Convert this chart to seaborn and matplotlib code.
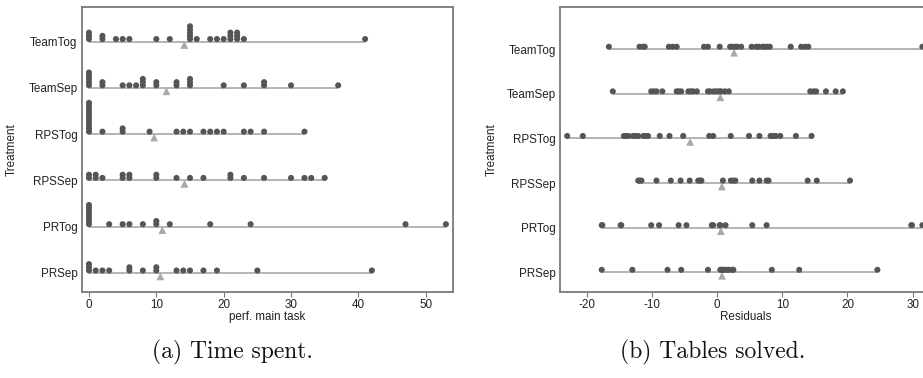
import numpy as np
import pandas as pd
import matplotlib
matplotlib.use("Agg")
import matplotlib.pyplot as plt
import seaborn as sns

# ---------------- data ----------------
treatments = ["TeamTog", "TeamSep", "RPSTog", "RPSSep", "PRTog", "PRSep"]

# (a) perf. main task (stacked dot plot)
time_teamtog = [0, 0, 0, 2, 2, 4, 5, 6, 10, 12, 15, 15, 15, 15, 15, 16, 18, 19, 20,
                21, 21, 21, 22, 22, 22, 23, 41]
time_teamsep = [0, 0, 0, 0, 0, 2, 2, 5, 6, 7, 8, 8, 8, 10, 10, 13, 13, 15, 15, 15,
                20, 23, 26, 26, 30, 37]
time_rpstog = [0, 0, 0, 0, 0, 0, 0, 0, 0, 0, 2, 5, 5, 9, 13, 14, 15, 17, 18, 19, 20,
               23, 24, 26, 32]
time_rpssep = [0, 0, 1, 1, 2, 5, 5, 6, 6, 10, 10, 13, 15, 17, 21, 21, 23, 26, 30, 32,
               33, 35]
time_prtog = [0, 0, 0, 0, 0, 0, 0, 3, 5, 6, 8, 10, 10, 12, 18, 24, 47, 53]
time_prsep = [0, 0, 0, 1, 2, 3, 6, 6, 8, 10, 10, 13, 14, 15, 17, 19, 25, 42]

# (b) Residuals
res_teamtog = [-16.6, -11.9, -11.4, -11.1, -7.4, -6.8, -6.2, -2.0, -1.4, 0.4, 2.0, 2.4,
               2.8, 3.1, 3.7, 5.3, 6.0, 6.4, 7.0, 7.3, 7.7, 8.1, 11.3, 12.9, 13.5, 14.0, 31.5]
res_teamsep = [-16.0, -10.1, -9.7, -9.3, -8.4, -6.2, -5.9, -5.5, -4.4, -4.0, -3.7, -3.1,
               -1.4, -1.1, -0.5, -0.1, 0.3, 0.6, 1.2, 1.8, 14.3, 14.8, 15.2, 16.7, 18.2, 19.3]
res_rpstog = [-23.0, -20.6, -14.3, -14.0, -13.6, -12.9, -12.5, -12.1, -11.3, -11.0, -10.6,
              -8.8, -7.3, -5.2, -1.2, -0.6, 2.1, 4.9, 6.5, 8.6, 8.2, 9.0, 9.7, 12.1, 14.5]
res_rpssep = [-12.1, -11.9, -11.6, -9.3, -7.1, -5.6, -4.2, -2.9, -2.6, -2.4, 0.9, 2.1,
              2.5, 2.8, 5.4, 6.5, 7.6, 7.9, 13.9, 15.3, 20.4]
res_prtog = [-17.7, -17.6, -14.8, -14.7, -10.1, -8.9, -5.9, -4.7, -0.8, -0.6, 0.4, 0.5,
             1.3, 5.4, 7.6, 29.8, 29.9, 31.5]
res_prsep = [-17.7, -13.0, -7.6, -5.5, -1.4, 0.5, 0.7, 0.9, 1.0, 1.2, 1.6, 1.8, 2.3, 2.5,
             8.4, 12.6, 24.6]

time_data = [time_teamtog, time_teamsep, time_rpstog, time_rpssep, time_prtog, time_prsep]
res_data = [res_teamtog, res_teamsep, res_rpstog, res_rpssep, res_prtog, res_prsep]

xticks_a = [0, 10, 20, 30, 40, 50]
xticks_b = [-20, -10, 0, 10, 20, 30]
xlabel_a = "perf. main task"
xlabel_b = "Residuals"
caption_a = "(a) Time spent."
caption_b = "(b) Tables solved."

# ---------------- style ----------------
sns.set_theme(style="white")
plt.rcParams["font.family"] = ["Liberation Sans", "DejaVu Sans"]

DOT_COLOR = "#555555"
LINE_COLOR = "#a0a0a0"
TRI_COLOR = "#a9a9a9"
SPINE_COLOR = "#7a7a7a"
FS = 8.4
DOT_R_PX = 2.5      # dot radius in pixels
STACK_PX = 3.2      # stacking step in pixels
TRI_PX = 3.4        # triangle center below line, pixels

W, H = 923, 378
fig = plt.figure(figsize=(W / 100, H / 100), dpi=100)


def make_long(lists):
    frames = []
    for t, vals in zip(treatments, lists):
        frames.append(pd.DataFrame({"treatment": t, "value": vals}))
    df = pd.concat(frames, ignore_index=True)
    df["row"] = df["treatment"].map({t: i for i, t in enumerate(treatments)})
    return df


def draw_panel(rect, lists, xlim, ylim, xticks, xlabel, stack, ylab_x):
    ax = fig.add_axes(rect)
    ax.set_xlim(*xlim)
    ax.set_ylim(*ylim)
    df = make_long(lists)
    ppu = abs(ax.transData.transform((0, 1))[1] - ax.transData.transform((0, 0))[1])
    if stack:
        df["k"] = df.groupby(["treatment", "value"]).cumcount()
    else:
        df["k"] = 0
    df["ypos"] = df["row"] - (DOT_R_PX + df["k"] * STACK_PX) / ppu

    rng = df.groupby("row")["value"].agg(["min", "max", "mean"]).reset_index()
    ax.hlines(rng["row"], rng["min"], rng["max"], color=LINE_COLOR, lw=1.1, zorder=1)

    sns.scatterplot(data=df, x="value", y="ypos", ax=ax, color=DOT_COLOR, s=19,
                    edgecolor="none", linewidth=0, legend=False, zorder=3)
    rng["ytri"] = rng["row"] + TRI_PX / ppu
    sns.scatterplot(data=rng, x="mean", y="ytri", ax=ax, color=TRI_COLOR, marker="^",
                    s=32, edgecolor="none", linewidth=0, legend=False, zorder=2)

    ax.set_xlim(*xlim)
    ax.set_ylim(*ylim)
    ax.set_yticks(range(len(treatments)))
    ax.set_yticklabels(treatments, fontsize=FS, color="#222222")
    ax.set_xticks(xticks)
    ax.set_xticklabels([str(v) for v in xticks], fontsize=FS, color="#222222")
    ax.tick_params(axis="y", length=0, pad=3)
    ax.tick_params(axis="x", length=3.5, width=0.8, color=SPINE_COLOR, pad=2,
                   bottom=True)
    ax.set_xlabel(xlabel, fontsize=FS, color="#222222", labelpad=0)
    ax.set_ylabel("Treatment", fontsize=FS, color="#222222")
    ax.yaxis.set_label_coords(ylab_x, 0.5)
    for sp in ax.spines.values():
        sp.set_color(SPINE_COLOR)
        sp.set_linewidth(1.3)
    return ax


# panel geometry (figure pixels)
axA_l, axA_r, ax_t, ax_b = 81.7, 453.0, 7.3, 291.5
axB_l, axB_r = 560.0, 931.5

draw_panel([axA_l / W, (H - ax_b) / H, (axA_r - axA_l) / W, (ax_b - ax_t) / H],
           time_data, (-1.08, 54.05), (5.40, -0.74), xticks_a, xlabel_a, True,
           (18 - axA_l) / (axA_r - axA_l))
draw_panel([axB_l / W, (H - ax_b) / H, (axB_r - axB_l) / W, (ax_b - ax_t) / H],
           res_data, (-24.1, 32.9), (5.43, -0.94), xticks_b, xlabel_b, False,
           (498 - axB_l) / (axB_r - axB_l))

fig.text(233 / W, 1 - 352 / H, caption_a, family="cmr10", fontsize=17,
         ha="center", va="center", color="#111111")
fig.text(713 / W, 1 - 352 / H, caption_b, family="cmr10", fontsize=17,
         ha="center", va="center", color="#111111")

fig.savefig("out.png", dpi=100)
